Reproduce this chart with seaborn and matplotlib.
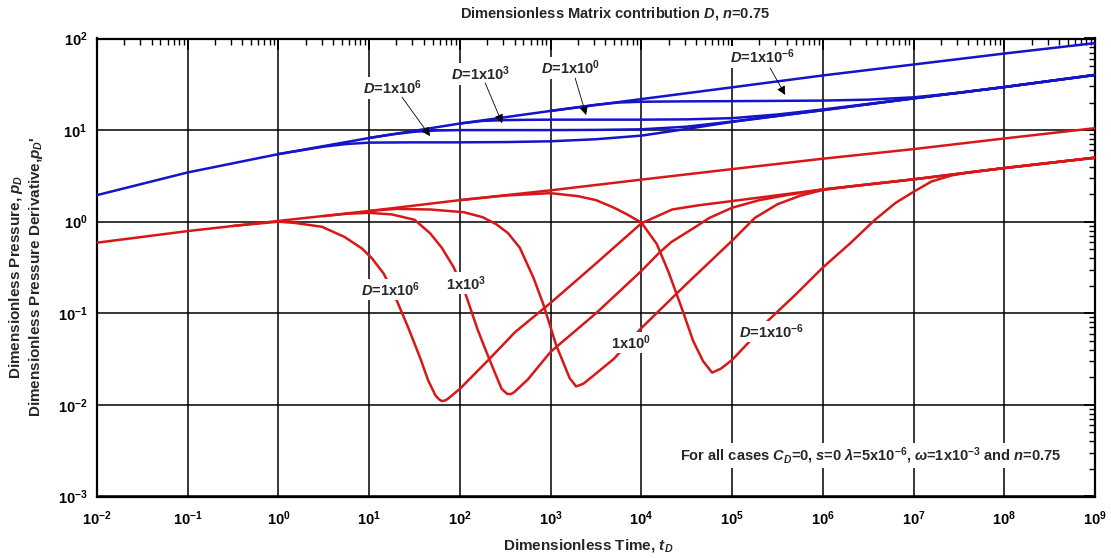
import numpy as np
import matplotlib
matplotlib.use("Agg")
import matplotlib.pyplot as plt
import seaborn as sns
from matplotlib.ticker import FixedLocator, LogLocator, FuncFormatter, NullFormatter

# ---------------- data ----------------
# reference (fracture-only) curves, full time span
t_ref = [1e-2, 1e-1, 1e0, 1e1, 1e2, 1e3, 1e4, 1e5, 1e6, 1e7, 1e8, 1e9]
pd_ref = [1.95, 3.45, 5.47, 8.2, 11.8, 16.2, 21.8, 29.3, 39.5, 52.0, 68.5, 89.0]
dpd_ref = [0.59, 0.79, 1.02, 1.31, 1.72, 2.2, 2.88, 3.75, 4.87, 6.2, 8.1, 10.5]

# dimensionless pressure, one curve per D
t_pd_d6 = [1, 3.16, 5.62, 10, 31.6, 100, 316, 1e3, 3.16e3, 1e4, 3.16e4, 1e5, 1e6, 1e7, 1e8, 1e9]
pd_d6 = [5.47, 6.6, 7.05, 7.3, 7.35, 7.35, 7.4, 7.55, 7.95, 8.7, 10.3, 12.3, 16.5, 22.2, 29.5, 40.0]

t_pd_d3 = [10, 17.8, 31.6, 56.2, 100, 1e3, 3.16e3, 1e4, 3.16e4, 1e5, 1e6, 1e7, 1e8, 1e9]
pd_d3 = [8.2, 8.97, 9.6, 9.9, 10.0, 10.0, 10.05, 10.2, 10.9, 12.4, 16.5, 22.2, 29.5, 40.0]

t_pd_d0 = [100, 178, 316, 562, 1e3, 1e4, 3.16e4, 1e5, 3.16e5, 1e6, 1e7, 1e8, 1e9]
pd_d0 = [11.8, 12.6, 12.85, 12.95, 13.0, 13.0, 13.1, 13.5, 14.8, 16.8, 22.2, 29.5, 40.0]

t_pd_dm6 = [1e3, 3.16e3, 5.62e3, 1e4, 3.16e4, 1e5, 1e6, 3.16e6, 1e7, 3.16e7, 1e8, 1e9]
pd_dm6 = [16.2, 18.9, 20.0, 20.4, 20.6, 20.7, 21.0, 21.5, 22.8, 25.5, 29.5, 40.0]

# pressure derivative, one curve per D
t_dpd_d6 = [0.316, 1, 1.51, 3.02, 5.37, 8.32, 10.7, 14.5, 20.0, 26.9, 36.3, 44.7, 53.7, 58.9,
            63.1, 69.2, 74.1, 100, 204, 407, 1e3, 3.16e3, 1e4, 2.19e4, 4.27e4, 1e5, 1e6, 1e7, 1e8, 1e9]
dpd_d6 = [0.9, 1.0, 0.97, 0.88, 0.68, 0.51, 0.40, 0.27, 0.14, 0.07, 0.033, 0.0185, 0.0127, 0.0115,
          0.011, 0.0112, 0.0117, 0.015, 0.0306, 0.0625, 0.13, 0.35, 0.96, 1.36, 1.51, 1.68, 2.25,
          2.9, 3.85, 5.0]

t_dpd_d3 = [3.16, 5.62, 10, 17.8, 31.6, 46.8, 63.1, 85.1, 115, 158, 200, 245, 288, 331, 363,
            398, 562, 1e3, 3.16e3, 1e4, 1.58e4, 2.14e4, 3.55e4, 5.62e4, 1e5, 2e5, 3.98e5,
            1e6, 1e7, 1e8, 1e9]
dpd_d3 = [1.15, 1.22, 1.25, 1.2, 1.05, 0.75, 0.52, 0.32, 0.164, 0.065, 0.036, 0.022, 0.015,
          0.0132, 0.0131, 0.0138, 0.019, 0.038, 0.10, 0.29, 0.46, 0.6, 0.82, 1.1, 1.42, 1.72,
          1.95, 2.25, 2.9, 3.85, 5.0]

t_dpd_d0 = [10, 20, 46.8, 110, 178, 251, 339, 457, 646, 832, 1150, 1620, 1910, 2290, 3160,
            5010, 1e4, 3.16e4, 1e5, 1.78e5, 3.16e5, 5.62e5, 1e6, 2e6, 1e7, 1e8, 1e9]
dpd_d0 = [1.31, 1.38, 1.36, 1.27, 1.12, 0.94, 0.75, 0.52, 0.245, 0.125, 0.045, 0.0196, 0.0159,
          0.017, 0.022, 0.032, 0.069, 0.21, 0.62, 1.1, 1.55, 1.92, 2.22, 2.42, 2.9, 3.85, 5.0]

t_dpd_dm6 = [100, 316, 1e3, 2e3, 3.16e3, 5.01e3, 6.76e3, 1e4, 1.48e4, 2e4, 2.82e4, 3.72e4,
             4.79e4, 6.03e4, 7.59e4, 1e5, 1.58e5, 2.45e5, 5.01e5, 1e6, 2e6, 3.72e6, 6.31e6,
             1e7, 1.58e7, 2.63e7, 3.98e7, 1e8, 1e9]
dpd_dm6 = [1.72, 1.93, 2.05, 1.9, 1.72, 1.42, 1.22, 0.98, 0.57, 0.28, 0.11, 0.05, 0.03, 0.0225,
           0.025, 0.031, 0.05, 0.082, 0.16, 0.316, 0.58, 1.04, 1.6, 2.12, 2.75, 3.2, 3.45, 3.85, 5.0]

# tick positions (decades)
x_ticks = [1e-2, 1e-1, 1e0, 1e1, 1e2, 1e3, 1e4, 1e5, 1e6, 1e7, 1e8, 1e9]
y_ticks = [1e-3, 1e-2, 1e-1, 1e0, 1e1, 1e2]

# labels: (text, label position, arrow tail, arrow tip)
blue_labels = [
    ("$D$=1x10$^{6}$", (17.9, 28.8), (23, 22.9), (46.9, 8.6)),
    ("$D$=1x10$^{3}$", (167, 40.9), (190, 32.7), (292, 11.9)),
    ("$D$=1x10$^{0}$", (1640, 47.6), (1862, 37.0), (2460, 14.6)),
    ("$D$=1x10$^{-6}$", (2.15e5, 62.8), (2.63e5, 47.6), (3.85e5, 24.2)),
]
red_labels = [
    ("$D$=1x10$^{6}$", (17.0, 0.183)),
    ("1x10$^{3}$", (117, 0.213)),
    ("1x10$^{0}$", (7730, 0.048)),
    ("$D$=1x10$^{-6}$", (2.7e5, 0.0635)),
]
note_text = ("For all cases $C_D$=0, $s$=0 $\\lambda$=5x10$^{-6}$, "
             "$\\omega$=1x10$^{-3}$ and $n$=0.75")
note_pos = (3.33e6, 0.0028)

# ---------------- style ----------------
sns.set_theme(style="white")
plt.rcParams["font.family"] = ["Liberation Sans", "DejaVu Sans"]
plt.rcParams["font.weight"] = "bold"
plt.rcParams["mathtext.fontset"] = "custom"
plt.rcParams["mathtext.rm"] = "Liberation Sans:bold"
plt.rcParams["mathtext.it"] = "Liberation Sans:bold:italic"
plt.rcParams["mathtext.bf"] = "Liberation Sans:bold"
plt.rcParams["mathtext.sf"] = "Liberation Sans:bold"

BLUE = "#1414c8"
RED = "#d81818"

fig = plt.figure(figsize=(11.11, 5.58), dpi=100)
ax = fig.add_axes([97 / 1111, 1 - 496.5 / 558, (1095 - 97) / 1111, (496.5 - 38.5) / 558])

lw = 1.8
for t, v in [(t_ref, pd_ref), (t_pd_d6, pd_d6), (t_pd_d3, pd_d3), (t_pd_d0, pd_d0), (t_pd_dm6, pd_dm6)]:
    sns.lineplot(x=t, y=v, ax=ax, color=BLUE, linewidth=lw, estimator=None, sort=False, zorder=3)
for t, v in [(t_ref, dpd_ref), (t_dpd_d6, dpd_d6), (t_dpd_d3, dpd_d3), (t_dpd_d0, dpd_d0), (t_dpd_dm6, dpd_dm6)]:
    sns.lineplot(x=t, y=v, ax=ax, color=RED, linewidth=lw, estimator=None, sort=False, zorder=3)

ax.set_xscale("log")
ax.set_yscale("log")
ax.set_xlim(1e-2, 1e9)
ax.set_ylim(1e-3, 1e2)

fmt = FuncFormatter(lambda v, p: "10$^{%d}$" % int(round(np.log10(v))))
for axis, ticks in ((ax.xaxis, x_ticks), (ax.yaxis, y_ticks)):
    axis.set_major_locator(FixedLocator(ticks))
    axis.set_minor_locator(LogLocator(base=10, subs=np.arange(2, 10), numticks=200))
    axis.set_major_formatter(fmt)
    axis.set_minor_formatter(NullFormatter())

ax.tick_params(which="both", direction="in", top=True, right=True, colors="black", labelsize=10.5)
ax.tick_params(which="major", length=8, width=1.3)
ax.tick_params(which="minor", length=4.5, width=1.0)
ax.tick_params(axis="x", which="major", pad=9)
ax.tick_params(axis="y", which="major", pad=7)
ax.grid(True, which="major", color="black", linewidth=1.1, zorder=1)
ax.set_axisbelow(True)
for s in ax.spines.values():
    s.set_color("black")
    s.set_linewidth(1.6)
ax.set_xlabel("")
ax.set_ylabel("")

box = dict(facecolor="white", edgecolor="none", pad=1.0)
for txt, pos, tail, tip in blue_labels:
    ax.text(pos[0], pos[1], txt, ha="center", va="center", fontsize=10.5, bbox=box, zorder=6)
    ax.annotate("", xy=tip, xytext=tail, zorder=7,
                arrowprops=dict(arrowstyle="-|>", color="black", lw=0.6, mutation_scale=13,
                                shrinkA=0, shrinkB=0))
for txt, pos in red_labels:
    ax.text(pos[0], pos[1], txt, ha="center", va="center", fontsize=10.5, bbox=box, zorder=6)
ax.text(note_pos[0], note_pos[1], note_text, ha="center", va="center", fontsize=10.5,
        bbox=dict(facecolor="white", edgecolor="none", pad=1.5), zorder=6)

fig.text(615 / 1111, 1 - 14 / 558, "Dimensionless Matrix contribution $D$, $n$=0.75",
         ha="center", va="center", fontsize=10.5)
fig.text(588 / 1111, 1 - 546 / 558, "Dimensionless Time, $t_D$", ha="center", va="center", fontsize=11)
fig.text(26 / 1111, 1 - 277 / 558,
         "Dimensionless Pressure, $p_D$\nDimensionless Pressure Derivative,$p_D$'",
         ha="center", va="center", rotation=90, multialignment="center", fontsize=11,
         linespacing=1.2)

fig.savefig("out.png", dpi=100, facecolor="white")
